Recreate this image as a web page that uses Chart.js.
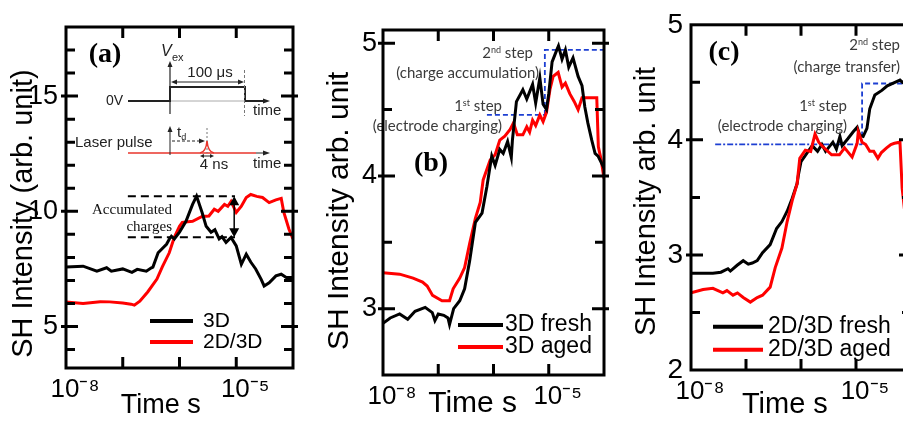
<!DOCTYPE html>
<html><head><meta charset="utf-8">
<script src="https://cdn.jsdelivr.net/npm/chart.js@4.4.1/dist/chart.umd.min.js"></script>
<style>
html,body{margin:0;padding:0;background:#fff;overflow:hidden;width:903px;height:422px;position:relative;}
.w{position:absolute;top:0;height:422px;}
canvas{display:block;}
</style></head><body>
<div class="w" style="left:0;width:305px"><canvas id="ca" width="305" height="422"></canvas></div>
<div class="w" style="left:305px;width:305px"><canvas id="cb" width="305" height="422"></canvas></div>
<div class="w" style="left:610px;width:310px"><canvas id="cc" width="310" height="422"></canvas></div>
<script>
// ---------------- shared x axis (time, log) ----------------
const xTickValues = [1e-8, 1e-7, 1e-6, 1e-5, 1e-4];
const xTickLabels = ['10\u207B\u2078', '', '', '10\u207B\u2075', ''];

// ---------------- panel (a) ----------------
const aYTicks  = [4,5,6,7,8,9,10,11,12,13,14,15,16,17];
const aYLabels = ['','5','','','','','10','','','','','15','',''];
const aTime3D = [1.0e-8,2.0e-8,3.5e-8,5.2e-8,6.3e-8,1.0e-7,1.45e-7,1.8e-7,2.6e-7,3.2e-7,3.4e-7,4.2e-7,5.9e-7,6.6e-7,7.2e-7,8.1e-7,1.0e-6,1.3e-6,1.7e-6,2.0e-6,2.5e-6,2.95e-6,3.6e-6,4.2e-6,5.0e-6,5.6e-6,6.6e-6,8.1e-6,1.0e-5,1.23e-5,1.5e-5,1.8e-5,2.2e-5,2.75e-5,3.1e-5,3.8e-5,5.0e-5,6.2e-5,7.6e-5,1.0e-4];
const aSH3D   = [7.58,7.62,7.40,7.55,7.40,7.50,7.35,7.48,7.40,7.55,7.58,8.20,8.57,8.79,8.92,8.80,9.10,9.57,10.30,10.66,9.95,9.35,9.09,9.20,8.80,8.90,8.65,8.87,8.50,7.70,8.14,7.80,7.50,7.05,6.76,6.90,7.20,7.27,7.13,7.13];
const aTime2D3D = [1.0e-8,2.0e-8,4.0e-8,5.9e-8,1.0e-7,1.4e-7,1.6e-7,2.0e-7,2.75e-7,4.0e-7,5.0e-7,6.6e-7,8.1e-7,1.0e-6,1.12e-6,1.7e-6,2.5e-6,3.3e-6,4.1e-6,4.8e-6,6.2e-6,7.1e-6,8.1e-6,1.0e-5,1.23e-5,1.5e-5,1.8e-5,2.3e-5,2.9e-5,3.8e-5,5.0e-5,6.2e-5,6.9e-5,8.5e-5,1.0e-4];
const aSH2D3D   = [6.06,6.00,6.08,6.07,6.02,5.97,5.93,6.10,6.50,7.06,7.60,8.20,8.87,9.35,9.52,9.57,9.78,9.80,10.09,10.00,10.30,10.22,10.43,9.95,10.22,10.60,10.73,10.65,10.60,10.38,10.50,10.56,9.95,9.22,8.80];
const aAccumTime   = [1.23e-7, 9.5e-6];
const aAccumLevels = [10.65, 8.87];
const aArrowTime   = 9.2e-6;

// ---------------- panel (b) ----------------
const bYTicks  = [3,3.5,4,4.5,5];
const bYLabels = ['3','','4','','5'];
const bTimeFresh = [1.0e-8,1.35e-8,2.0e-8,2.8e-8,3.8e-8,5.8e-8,7.8e-8,8.7e-8,1.0e-7,1.26e-7,1.5e-7,1.6e-7,1.9e-7,2.45e-7,3.0e-7,3.7e-7,4.7e-7,6.2e-7,7.6e-7,8.5e-7,9.3e-7,1.07e-6,1.3e-6,1.5e-6,1.8e-6,2.1e-6,2.2e-6,2.6e-6,3.4e-6,4.0e-6,5.1e-6,5.8e-6,6.9e-6,7.9e-6,9.1e-6,1.0e-5,1.15e-5,1.4e-5,1.5e-5,1.74e-5,2.0e-5,2.3e-5,2.75e-5,3.4e-5,4.0e-5,4.5e-5,5.1e-5,6.0e-5,6.9e-5,7.8e-5,1.0e-4];
const bSHFresh   = [2.89,2.93,2.96,2.92,2.98,3.01,2.97,2.91,2.96,2.95,2.93,2.88,3.00,3.06,3.15,3.36,3.65,3.72,3.92,4.05,4.15,4.08,4.20,4.17,4.26,4.14,4.27,4.56,4.65,4.58,4.69,4.55,4.74,4.54,4.50,4.62,4.86,4.95,4.98,4.88,4.95,4.82,4.89,4.75,4.68,4.52,4.40,4.27,4.17,4.15,4.06];
const bTimeAged = [1.0e-8,2.0e-8,3.5e-8,5.2e-8,6.3e-8,7.9e-8,1.17e-7,1.6e-7,1.86e-7,2.45e-7,3.0e-7,3.7e-7,4.7e-7,5.75e-7,6.5e-7,8.7e-7,1.07e-6,1.3e-6,1.6e-6,2.0e-6,2.3e-6,2.7e-6,3.4e-6,4.0e-6,4.5e-6,5.1e-6,5.8e-6,6.9e-6,7.9e-6,9.1e-6,1.05e-5,1.2e-5,1.48e-5,1.74e-5,2.0e-5,2.4e-5,2.9e-5,3.4e-5,4.0e-5,7.4e-5,7.9e-5,8.9e-5,1.0e-4];
const bSHAged   = [3.27,3.26,3.23,3.20,3.17,3.10,3.06,3.06,3.15,3.23,3.31,3.49,3.68,3.80,3.97,4.12,4.16,4.27,4.30,4.35,4.40,4.31,4.31,4.37,4.33,4.42,4.38,4.46,4.41,4.48,4.65,4.75,4.78,4.67,4.70,4.62,4.56,4.50,4.59,4.59,4.22,4.12,3.98];
const bStep1Time = [7.6e-7, 8.5e-6];
const bStep1SH   = [4.46, 4.46];
const bStep2Time = [8.5e-6, 8.5e-6, 1.0e-4];
const bStep2SH   = [4.46, 4.95, 4.95];

// ---------------- panel (c) ----------------
const cYTicks  = [2,2.5,3,3.5,4,4.5,5];
const cYLabels = ['2','','3','','4','','5'];
const cTimeFresh = [1.0e-8,2.5e-8,3.5e-8,4.7e-8,5.2e-8,6.9e-8,8.9e-8,1.1e-7,1.3e-7,1.6e-7,2.0e-7,2.75e-7,3.6e-7,4.5e-7,5.6e-7,6.9e-7,8.5e-7,9.0e-7,1.0e-6,1.35e-6,1.6e-6,2.0e-6,2.4e-6,2.8e-6,3.8e-6,4.4e-6,5.1e-6,5.6e-6,7.1e-6,8.9e-6,1.05e-5,1.17e-5,1.35e-5,1.58e-5,1.78e-5,2.2e-5,2.95e-5,3.7e-5,5.1e-5,6.3e-5,7.0e-5,1.0e-4];
const cSHFresh   = [2.84,2.84,2.85,2.88,2.86,2.91,2.95,2.92,2.93,2.95,3.02,3.09,3.23,3.29,3.38,3.49,3.62,3.70,3.81,3.90,3.95,3.90,3.96,3.90,3.98,3.92,4.03,3.95,4.01,4.07,4.11,4.04,4.03,4.10,4.27,4.39,4.43,4.47,4.50,4.52,4.50,4.45];
const cTimeAged = [1.0e-8,1.66e-8,2.5e-8,3.8e-8,4.5e-8,5.8e-8,7.0e-8,8.9e-8,1.2e-7,1.6e-7,2.0e-7,2.75e-7,3.4e-7,4.5e-7,5.6e-7,6.9e-7,8.5e-7,9.5e-7,1.2e-6,1.5e-6,1.8e-6,2.1e-6,2.5e-6,3.6e-6,5.0e-6,6.2e-6,8.5e-6,1.05e-5,1.1e-5,1.29e-5,1.5e-5,1.78e-5,2.1e-5,2.5e-5,2.9e-5,3.6e-5,4.3e-5,5.0e-5,6.3e-5,6.9e-5,8.0e-5];
const cSHAged   = [2.67,2.70,2.71,2.67,2.69,2.65,2.67,2.63,2.59,2.63,2.65,2.72,2.89,3.06,3.29,3.47,3.62,3.84,3.91,3.90,4.05,3.98,3.94,3.87,3.87,3.93,3.85,3.97,4.07,3.98,3.96,3.90,3.90,3.84,3.89,3.93,3.96,3.97,3.98,3.58,3.30];
const cStep1Time = [2.75e-8, 1.29e-5];
const cStep1SH   = [3.96, 3.96];
const cStep2Time = [1.29e-5, 1.29e-5, 1.0e-4];
const cStep2SH   = [3.96, 4.49, 4.49];

// ---------------- helpers ----------------
const SANS  = "'Liberation Sans', Arial, sans-serif";
const SERIF = "'Liberation Serif', 'Times New Roman', serif";
const NOTE  = "Lato, 'Open Sans', sans-serif";
const BLUE = '#1d3fd2', RED = '#ff0000', BLACK = '#000000', NOTECOL = '#3a3a3a';

function pts(xs, ys){ return xs.map((x,i)=>({x:x, y:ys[i]})); }
function series(label, xs, ys, color, extra){
  return Object.assign({label:label, data:pts(xs,ys), borderColor:color, backgroundColor:color,
    borderWidth:3, pointRadius:0, tension:0, fill:false, inLegend:true}, extra||{});
}
function guide(xs, ys, color, dash, width){
  return {label:'', data:pts(xs,ys), borderColor:color, backgroundColor:color, borderWidth:width,
    borderDash:dash, pointRadius:0, tension:0, fill:false, order:10, inLegend:false};
}
function txt(ctx, s, x, y, font, align, color){
  ctx.font = font; ctx.textAlign = align||'left'; ctx.textBaseline = 'middle';
  ctx.fillStyle = color||'#000'; ctx.fillText(s, x, y);
}
// rich text: parts [[text, ''|'sup'|'sub'], ...]; y = middle line
function rich(ctx, parts, x, y, size, family, align, color){
  const f = m => (m ? Math.round(size*0.62) : size) + 'px ' + family;
  let w = 0;
  parts.forEach(([t,m]) => { ctx.font = f(m); w += ctx.measureText(t).width; });
  let cx = align === 'right' ? x - w : (align === 'center' ? x - w/2 : x);
  const base = y + size*0.35;
  ctx.textAlign = 'left'; ctx.textBaseline = 'alphabetic'; ctx.fillStyle = color||'#000';
  parts.forEach(([t,m]) => {
    ctx.font = f(m);
    const dy = m === 'sup' ? -size*0.36 : (m === 'sub' ? size*0.2 : 0);
    ctx.fillText(t, cx, base + dy);
    cx += ctx.measureText(t).width;
  });
}
function seg(ctx, x1, y1, x2, y2){ ctx.beginPath(); ctx.moveTo(x1,y1); ctx.lineTo(x2,y2); ctx.stroke(); }
function head(ctx, x, y, ang, len, wid){
  len = len||6; wid = wid||3;
  const c = Math.cos(ang), s = Math.sin(ang);
  ctx.beginPath(); ctx.moveTo(x,y);
  ctx.lineTo(x - len*c + wid*s, y - len*s - wid*c);
  ctx.lineTo(x - len*c - wid*s, y - len*s + wid*c);
  ctx.closePath(); ctx.fill();
}

function makeChart(id, cfg){
  const framePlugin = {
    id:'frame',
    afterDatasetsDraw(chart){
      const {ctx, chartArea:ca, scales:{x, y}} = chart;
      ctx.save();
      ctx.strokeStyle = '#000'; ctx.lineWidth = 3; ctx.lineCap = 'butt';
      ctx.beginPath();
      xTickValues.forEach(v => {
        const px = x.getPixelForValue(v);
        if (px < ca.left + 2 || px > ca.right - 2) return;
        ctx.moveTo(px, ca.bottom); ctx.lineTo(px, ca.bottom - 11);
        ctx.moveTo(px, ca.top); ctx.lineTo(px, ca.top + 11);
      });
      cfg.yTicks.forEach((v, i) => {
        const py = y.getPixelForValue(v);
        if (py < ca.top + 2 || py > ca.bottom - 2) return;
        const major = cfg.yLabels[i] !== '';
        ctx.moveTo(ca.left - (major ? 5 : 0), py); ctx.lineTo(ca.left + (major ? 12 : 9), py);
        ctx.moveTo(ca.right + (major ? 5 : 0), py); ctx.lineTo(ca.right - (major ? 12 : 9), py);
      });
      ctx.stroke();
      ctx.strokeRect(ca.left, ca.top, ca.right - ca.left, ca.bottom - ca.top);
      ctx.restore();
    }
  };
  const legendPlugin = {
    id:'lgd',
    afterDatasetsDraw(chart){
      const {ctx, chartArea:ca} = chart;
      const L = cfg.legend;
      ctx.save();
      chart.data.datasets.filter(d => d.inLegend).forEach((d, k) => {
        const yy = ca.top + L.y0 + k*L.dy;
        ctx.strokeStyle = d.borderColor; ctx.lineWidth = 4;
        seg(ctx, ca.left + L.x0, yy, ca.left + L.x1, yy);
        txt(ctx, d.label, ca.left + L.tx, yy, L.size + 'px ' + SANS, 'left', '#000');
      });
      ctx.restore();
    }
  };
  const decoPlugin = { id:'deco', afterDatasetsDraw(chart){ chart.ctx.save(); cfg.deco(chart); chart.ctx.restore(); } };
  return new Chart(document.getElementById(id), {
    type:'line',
    data:{datasets:cfg.datasets},
    options:{
      responsive:false, animation:false, devicePixelRatio:1,
      layout:{padding:cfg.padding},
      plugins:{legend:{display:false}, tooltip:{enabled:false}},
      scales:{
        x:{type:'logarithmic', min:1e-8, max:1e-4,
          afterFit: s => { s.height = cfg.xH; },
          afterBuildTicks: s => { s.ticks = xTickValues.map(v => ({value:v})); },
          grid:{display:false, drawTicks:false}, border:{display:false},
          ticks:{autoSkip:false, maxRotation:0, minRotation:0, labelOffset:9, padding:cfg.xTickPad,
            color:'#000', font:{family:SANS, size:cfg.xTickSize}, callback:(v,i) => xTickLabels[i]},
          title:{display:true, text:cfg.xTitle, color:'#000', font:{family:SANS, size:cfg.xTitleSize},
            padding:{top:0, bottom:cfg.xTitlePad}}},
        y:{type:'linear', min:cfg.yMin, max:cfg.yMax,
          afterFit: s => { s.width = cfg.yW; },
          afterBuildTicks: s => { s.ticks = cfg.yTicks.map(v => ({value:v})); },
          grid:{display:false, drawTicks:false}, border:{display:false},
          ticks:{autoSkip:false, padding:cfg.yTickPad, color:'#000',
            font:{family:SANS, size:cfg.yTickSize}, callback:(v,i) => cfg.yLabels[i]},
          title:{display:true, text:cfg.yTitle, color:'#000', font:{family:SANS, size:cfg.yTitleSize},
            padding:{top:cfg.yTitlePad, bottom:0}}}
      }
    },
    plugins:[decoPlugin, legendPlugin, framePlugin]
  });
}

// ---------------- chart (a) ----------------
makeChart('ca', {
  padding:{left:4, right:12, top:27, bottom:0}, yW:62, xH:54,
  yMin:3.2, yMax:18, yTicks:aYTicks, yLabels:aYLabels,
  xTickSize:26, xTickPad:6, xTitle:'Time s     ', xTitleSize:27, xTitlePad:0,
  yTickSize:27, yTickPad:8, yTitle:'SH Intensity (arb. unit)    ', yTitleSize:29, yTitlePad:3,
  legend:{x0:84, x1:127, tx:137, y0:294, dy:21, size:21},
  datasets:[
    series('3D', aTime3D, aSH3D, BLACK, {order:1}),
    series('2D/3D', aTime2D3D, aSH2D3D, RED, {order:2}),
    guide(aAccumTime, [aAccumLevels[0], aAccumLevels[0]], BLACK, [8,5], 2),
    guide(aAccumTime, [aAccumLevels[1], aAccumLevels[1]], BLACK, [8,5], 2)
  ],
  deco(chart){
    const {ctx, scales:{x, y}} = chart;
    txt(ctx, '(a)', 105, 55, 'bold 28px ' + SERIF, 'center');
    // accumulated charges
    txt(ctx, 'Accumulated', 172, 210, '15px ' + SERIF, 'right', '#111');
    txt(ctx, 'charges', 172, 227, '15px ' + SERIF, 'right', '#111');
    const ax = x.getPixelForValue(aArrowTime);
    const y1 = y.getPixelForValue(aAccumLevels[0]), y2 = y.getPixelForValue(aAccumLevels[1]);
    ctx.strokeStyle = '#000'; ctx.fillStyle = '#000'; ctx.lineWidth = 1.5;
    seg(ctx, ax, y1 + 8, ax, y2 - 8);
    head(ctx, ax, y1, -Math.PI/2, 9, 5); head(ctx, ax, y2, Math.PI/2, 9, 5);
    // inset: V_ex pulse
    ctx.lineWidth = 1.2; ctx.strokeStyle = '#222'; ctx.fillStyle = '#222';
    seg(ctx, 170, 114, 170, 66); head(ctx, 170, 61, -Math.PI/2, 6, 2.5);
    ctx.font = 'italic 16px ' + SANS; ctx.textAlign='left'; ctx.textBaseline='middle'; ctx.fillText('V', 161, 52);
    txt(ctx, 'ex', 172, 58, '11px ' + SANS, 'left', '#222');
    ctx.strokeStyle = '#aaa'; ctx.lineWidth = 1; seg(ctx, 170, 101, 262, 101);
    ctx.strokeStyle = '#222'; ctx.lineWidth = 2;
    ctx.beginPath(); ctx.moveTo(128,101); ctx.lineTo(170,101); ctx.lineTo(170,87); ctx.lineTo(245,87); ctx.lineTo(245,101); ctx.lineTo(264,101); ctx.stroke();
    ctx.lineWidth = 1; head(ctx, 270, 101, 0, 7, 2.5);
    ctx.setLineDash([3,2]); ctx.strokeStyle = '#777'; seg(ctx, 244.5, 70, 244.5, 116); ctx.setLineDash([]);
    ctx.strokeStyle = '#222'; ctx.lineWidth = 1; seg(ctx, 176, 82, 239, 82);
    head(ctx, 171, 82, Math.PI, 6, 2.5); head(ctx, 244, 82, 0, 6, 2.5);
    txt(ctx, '100 \u03BCs', 210, 73, '15px ' + SANS, 'center', '#222');
    txt(ctx, '0V', 123, 101, '14px ' + SANS, 'right', '#222');
    txt(ctx, 'time', 253, 111, '15px ' + SANS, 'left', '#222');
    // inset: laser pulse
    txt(ctx, 'Laser pulse', 75, 143, '15px ' + SANS, 'left', '#222');
    ctx.strokeStyle = '#e8342b'; ctx.lineWidth = 1.6; seg(ctx, 128, 153, 256, 153);
    ctx.strokeStyle = '#222'; ctx.lineWidth = 1; seg(ctx, 256, 153, 264, 153); head(ctx, 270, 153, 0, 7, 2.5);
    seg(ctx, 170, 155, 170, 131); head(ctx, 170, 126, -Math.PI/2, 6, 2.5);
    rich(ctx, [['t',''],['d','sub']], 177, 132, 15, SANS, 'left', '#222');
    ctx.setLineDash([3,2]); seg(ctx, 172, 141, 200, 141); ctx.setLineDash([]); head(ctx, 205, 141, 0, 6, 2.5);
    ctx.setLineDash([2,2]); ctx.strokeStyle = '#777'; seg(ctx, 207, 128, 207, 153); ctx.setLineDash([]);
    ctx.strokeStyle = '#e8342b'; ctx.lineWidth = 1.5;
    ctx.beginPath(); ctx.moveTo(200,153); ctx.quadraticCurveTo(206,152,207,141); ctx.quadraticCurveTo(208,152,214,153); ctx.stroke();
    ctx.strokeStyle = '#222'; ctx.fillStyle = '#222'; ctx.lineWidth = 1;
    seg(ctx, 203, 156, 211, 156); head(ctx, 200, 156, Math.PI, 4, 2); head(ctx, 214, 156, 0, 4, 2);
    txt(ctx, '4 ns', 214, 165, '15px ' + SANS, 'center', '#222');
    txt(ctx, 'time', 253, 164, '15px ' + SANS, 'left', '#222');
  }
});

// ---------------- chart (b) ----------------
const LB = 305;
makeChart('cb', {
  padding:{left:14, right:6, top:30, bottom:0}, yW:64, xH:47,
  yMin:2.5, yMax:5.1, yTicks:bYTicks, yLabels:bYLabels,
  xTickSize:26, xTickPad:6, xTitle:'Time s     ', xTitleSize:30, xTitlePad:0,
  yTickSize:27, yTickPad:6, yTitle:'SH Intensity arb. unit  ', yTitleSize:30, yTitlePad:3,
  legend:{x0:75, x1:120, tx:122, y0:295, dy:22, size:23},
  datasets:[
    series('3D fresh', bTimeFresh, bSHFresh, BLACK, {order:1}),
    series('3D aged', bTimeAged, bSHAged, RED, {order:2}),
    guide(bStep1Time, bStep1SH, BLUE, [5,3], 1.8),
    guide(bStep2Time, bStep2SH, BLUE, [5,3], 1.8)
  ],
  deco(chart){
    const ctx = chart.ctx;
    txt(ctx, '(b)', 431 - LB, 164, 'bold 28px ' + SERIF, 'center');
    rich(ctx, [['2',''],['nd','sup'],[' step','']], 533 - LB, 53, 15, NOTE, 'right', NOTECOL);
    txt(ctx, '(charge accumulation)', 539 - LB, 73, '15px ' + NOTE, 'right', NOTECOL);
    rich(ctx, [['1',''],['st','sup'],[' step','']], 502 - LB, 106, 15, NOTE, 'right', NOTECOL);
    txt(ctx, '(electrode charging)', 502 - LB, 126, '15px ' + NOTE, 'right', NOTECOL);
  }
});

// ---------------- chart (c) ----------------
const LC = 610;
makeChart('cc', {
  padding:{left:17, right:9, top:22, bottom:0}, yW:64, xH:52,
  yMin:2, yMax:5, yTicks:cYTicks, yLabels:cYLabels,
  xTickSize:26, xTickPad:6, xTitle:'Time s    ', xTitleSize:29, xTitlePad:0,
  yTickSize:28, yTickPad:8, yTitle:'SH Intensity arb. unit ', yTitleSize:29, yTitlePad:3,
  legend:{x0:22, x1:72, tx:77, y0:302, dy:23, size:23},
  datasets:[
    series('2D/3D fresh', cTimeFresh, cSHFresh, BLACK, {order:2}),
    series('2D/3D aged', cTimeAged, cSHAged, RED, {order:1}),
    guide(cStep1Time, cStep1SH, BLUE, [6,2,2,2], 1.8),
    guide(cStep2Time, cStep2SH, BLUE, [5,3], 1.8)
  ],
  deco(chart){
    const ctx = chart.ctx;
    txt(ctx, '(c)', 724 - LC, 53, 'bold 28px ' + SERIF, 'center');
    rich(ctx, [['2',''],['nd','sup'],[' step','']], 900 - LC, 45, 15, NOTE, 'right', NOTECOL);
    txt(ctx, '(charge transfer)', 900 - LC, 67, '15px ' + NOTE, 'right', NOTECOL);
    rich(ctx, [['1',''],['st','sup'],[' step','']], 847 - LC, 106, 15, NOTE, 'right', NOTECOL);
    txt(ctx, '(electrode charging)', 847 - LC, 126, '15px ' + NOTE, 'right', NOTECOL);
  }
});
</script>
</body></html>
